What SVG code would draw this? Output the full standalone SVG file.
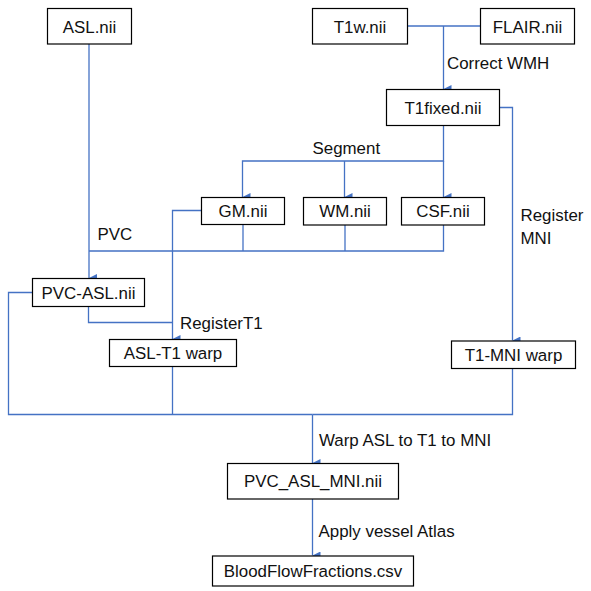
<svg xmlns="http://www.w3.org/2000/svg" width="591" height="591" viewBox="0 0 591 591">
<style>
.box{fill:#fff;stroke:#000;stroke-width:1.2}
.t{font-family:"Liberation Sans",Arial,sans-serif;font-size:16.9px;fill:#111}
.c{text-anchor:middle}
.ln{fill:none;stroke:#4472C4;stroke-width:1.3}
</style>
<defs>
<marker id="ah" viewBox="0 0 8 8" refX="4" refY="8" markerWidth="8" markerHeight="8" markerUnits="userSpaceOnUse" orient="auto-start-reverse">
<path d="M0,0 L8,0 L4,8 Z" fill="#4472C4"/>
</marker>
</defs>
<g id="connectors">
<path class="ln" d="M89,44 V251"/>
<path class="ln" d="M89,251 V278" marker-end="url(#ah)"/>
<path class="ln" d="M407,26 H480"/>
<path class="ln" d="M443.5,26 V89" marker-end="url(#ah)"/>
<path class="ln" d="M443.5,125 V161 H242.5 V197" marker-end="url(#ah)"/>
<path class="ln" d="M344.5,161 V197" marker-end="url(#ah)"/>
<path class="ln" d="M443.5,161 V197" marker-end="url(#ah)"/>
<path class="ln" d="M243,224 V251"/>
<path class="ln" d="M345,225 V251"/>
<path class="ln" d="M443.5,225 V251 H89"/>
<path class="ln" d="M201,210.5 H172.5 V339" marker-end="url(#ah)"/>
<path class="ln" d="M88.5,306 V322.5 H172.5"/>
<path class="ln" d="M32,292.5 H8.5 V414.5 H312.5"/>
<path class="ln" d="M172.5,366 V414.5"/>
<path class="ln" d="M499,107.5 H512.5 V340.5" marker-end="url(#ah)"/>
<path class="ln" d="M512.5,368 V414.5 H312.5"/>
<path class="ln" d="M312.5,414.5 V463" stroke-width="2" marker-end="url(#ah)"/>
<path class="ln" d="M312.5,499 V555.5" marker-end="url(#ah)"/>
</g>
<g id="labels">
<text class="t" x="447" y="69">Correct WMH</text>
<text class="t" x="312.5" y="154">Segment</text>
<text class="t" x="97.5" y="240">PVC</text>
<text class="t" x="520.5" y="221">Register</text>
<text class="t" x="520.5" y="244">MNI</text>
<text class="t" x="180" y="328.5">RegisterT1</text>
<text class="t" x="319" y="446">Warp ASL to T1 to MNI</text>
<text class="t" x="318.5" y="537">Apply vessel Atlas</text>
</g>
<g id="asl"><rect class="box" x="47.5" y="8.5" width="84" height="35.5"/><text class="t c" x="89.5" y="32.5">ASL.nii</text></g>
<g id="t1w"><rect class="box" x="312.5" y="8.5" width="95" height="35.5"/><text class="t c" x="360" y="32.5">T1w.nii</text></g>
<g id="flair"><rect class="box" x="480.5" y="8.5" width="94" height="35.5"/><text class="t c" x="527.5" y="32.5">FLAIR.nii</text></g>
<g id="t1fixed"><rect class="box" x="386.5" y="89.5" width="113" height="36"/><text class="t c" x="443" y="113.5">T1fixed.nii</text></g>
<g id="gm"><rect class="box" x="201.5" y="197.5" width="83" height="27"/><text class="t c" x="243" y="217">GM.nii</text></g>
<g id="wm"><rect class="box" x="303.5" y="197.5" width="83" height="27.5"/><text class="t c" x="345" y="217">WM.nii</text></g>
<g id="csf"><rect class="box" x="401.5" y="197.5" width="83" height="27.5"/><text class="t c" x="443" y="217">CSF.nii</text></g>
<g id="pvcasl"><rect class="box" x="32.5" y="278.5" width="112" height="28"/><text class="t c" x="88.5" y="298.5">PVC-ASL.nii</text></g>
<g id="aslt1"><rect class="box" x="109.5" y="339.5" width="127" height="27"/><text class="t c" x="173" y="359">ASL-T1 warp</text></g>
<g id="t1mni"><rect class="box" x="451.5" y="341" width="124" height="27.5"/><text class="t c" x="513.5" y="360.5">T1-MNI warp</text></g>
<g id="pvcaslmni"><rect class="box" x="227.5" y="463.5" width="171" height="35.5"/><text class="t c" x="313" y="487">PVC_ASL_MNI.nii</text></g>
<g id="bff"><rect class="box" x="212.5" y="556" width="201" height="30"/><text class="t c" x="313" y="577">BloodFlowFractions.csv</text></g>
</svg>
